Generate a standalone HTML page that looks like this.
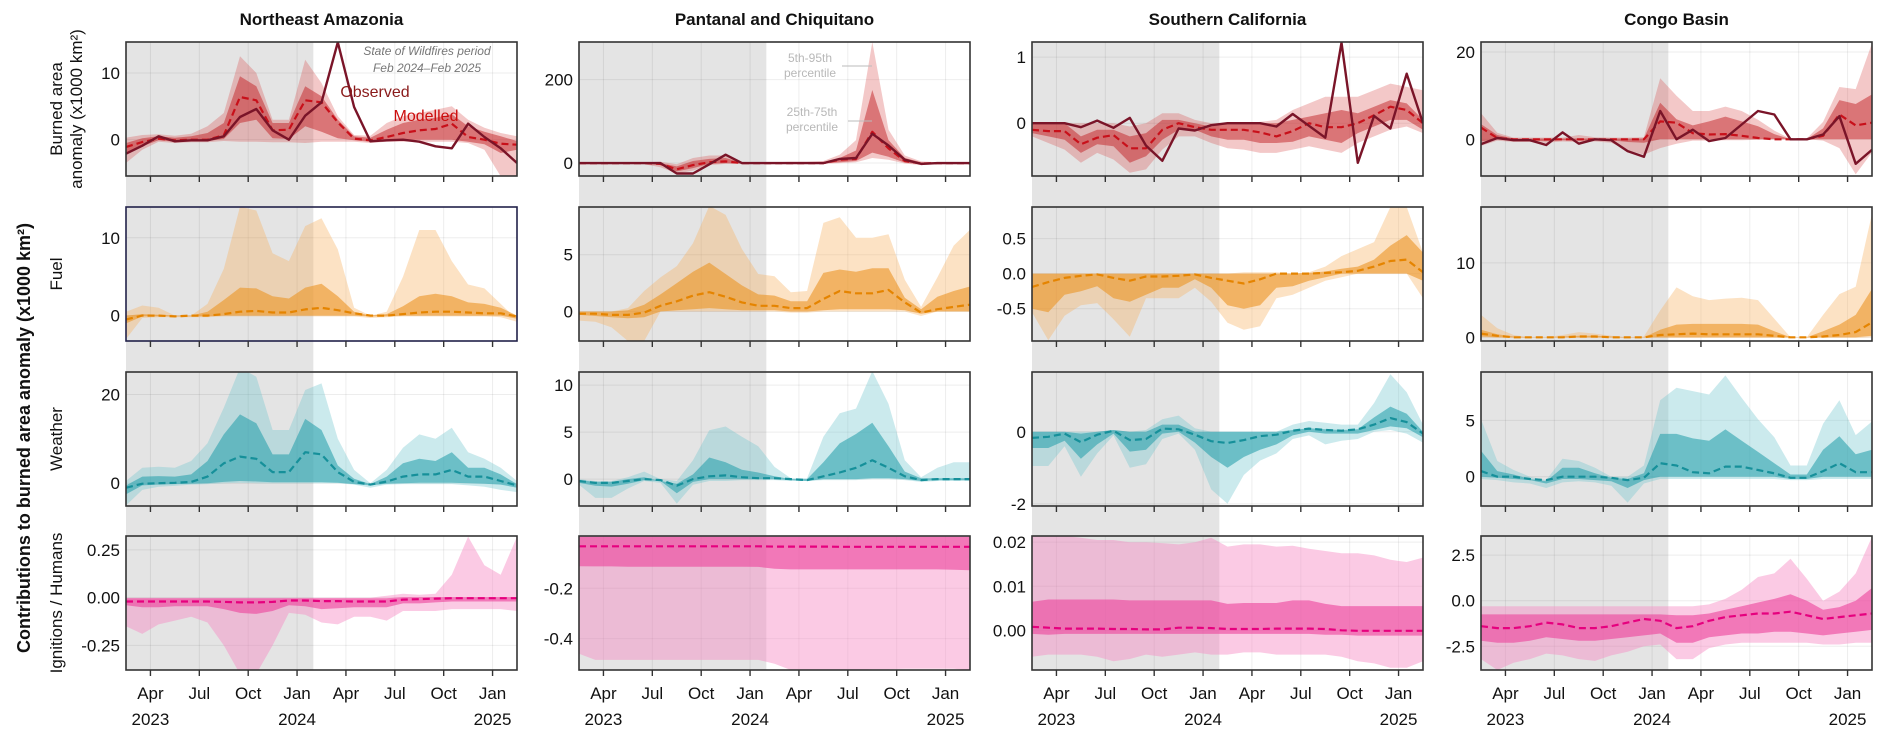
<!DOCTYPE html>
<html><head><meta charset="utf-8"><style>
html,body{margin:0;padding:0;background:#fff;}
svg{display:block;font-family:"Liberation Sans","DejaVu Sans",sans-serif;}
</style></head><body>
<svg id="chart" width="1892" height="744" viewBox="0 0 1892 744" xmlns="http://www.w3.org/2000/svg"></svg>
<script>
// ---- data: 25 monthly points, Feb 2023 .. Feb 2025 ----
const monthTickLabels=["Apr","Jul","Oct","Jan","Apr","Jul","Oct","Jan"];
const yearLabels=["2023","2024","2025"];
const regionTitles=["Northeast Amazonia","Pantanal and Chiquitano","Southern California","Congo Basin"];

// Northeast Amazonia
const neaBurnObs=[-2.1,-0.9,0.5,-0.25,-0.1,-0.1,0.5,3.4,4.6,1.4,0,3.6,5.6,14.6,4.9,-0.25,-0.1,0,-0.3,-1,-1.3,2.4,0.4,-1.3,-3.5];
const neaBurnMed=[-1.1,-0.35,0.15,-0.1,0,0,0.65,6.4,5.9,1.4,1.5,5.9,5.6,2.6,0.15,-0.1,0.4,1,1.4,1.6,2.4,0.4,0,-0.6,-0.75];
const neaBurnP75=[-0.5,0.2,0.5,0.3,0.5,1,2.5,9.5,8,2.5,2.5,8,6.5,3,0.5,0.3,1.5,2.5,3,3.3,3.8,2,1.2,0.5,-0.2];
const neaBurnP25=[-2,-1,-0.1,-0.3,-0.2,-0.2,0.1,2.5,3,0.2,0.1,2,1.2,0.2,-0.1,-0.3,-0.1,0,0,0,0,-0.3,-0.7,-2,-1.5];
const neaBurnP95=[0.3,0.7,0.8,0.6,0.9,2,4,12.5,10,3,3,12,8.5,3.5,0.7,0.6,2.5,3.5,4,4.5,5,3,1.8,1,0.5];
const neaBurnP5=[-3.5,-1.5,-0.3,-0.5,-0.4,-0.4,-0.2,-0.3,-0.3,-0.4,-0.4,-0.5,-0.3,-0.3,-0.3,-0.5,-0.3,-0.3,-0.3,-0.3,-0.3,-0.5,-1.5,-5.5,-5.5];
const neaFuelP95=[0.5,1.3,1,0,0,1.5,6,14,13.5,8,7,11.5,12.5,8.5,1,0,0.5,5,11,11,7,4,3.5,1.5,-0.5];
const neaFuelP75=[0,0.2,0.1,0,0,0.5,2,3.6,3.5,2.5,2.2,3.6,4.1,2.5,0.5,0,0.2,1.2,2.5,2.8,2.5,1.7,1.5,1,0];
const neaFuelMed=[-0.5,0,0,-0.1,0,0,0.2,0.5,0.6,0.4,0.4,0.8,1,0.7,0.3,0,0,0.2,0.4,0.5,0.5,0.4,0.3,0.3,-0.1];
const neaFuelP25=[-1,-0.1,-0.1,-0.1,-0.1,-0.1,0,0,0,0,0,0,0,0,0,-0.1,-0.1,0,0,0,0,0,0,0,-0.4];
const neaFuelP5=[-3,-0.3,-0.2,-0.2,-0.2,-0.2,-0.1,-0.1,-0.1,-0.1,-0.1,-0.1,-0.1,-0.1,-0.1,-0.3,-0.2,-0.1,-0.1,-0.1,-0.1,-0.1,-0.1,-0.2,-0.8];
const neaWeatP95=[0.5,3.5,3.7,3.5,5,9,17,26,24,12,12,21,22.5,10,3,0,3,8,11,10,12.5,7,5.5,3.5,0.5];
const neaWeatP75=[-0.5,1.5,1.6,1.5,2,5,11,15.5,13.5,6.5,6.5,14.5,12,4,1,-0.2,1.5,4.5,5.5,5,7,3.5,3.5,2,-0.2];
const neaWeatMed=[-1,-0.1,0,0.1,0.3,1.5,4.5,6,5.5,2.5,2.5,7,6.5,2.5,0.3,-0.3,0.4,1.5,2,2,3,1.5,1.5,0.5,-0.5];
const neaWeatP25=[-2.5,-0.5,-0.3,-0.2,-0.1,0,0.3,0.5,0.4,0.2,0.2,0.2,0.2,0.1,-0.2,-0.5,-0.1,0,0.1,0.1,0.1,0,-0.1,-0.3,-1];
const neaWeatP5=[-5,-1.5,-0.8,-0.6,-0.3,-0.2,0,0.1,0,0,0,0,0,0,-0.3,-1,-0.3,-0.2,-0.2,-0.2,-0.2,-0.5,-0.8,-1.5,-2];
const neaIgnP95=[0,0,0,0,0,0,0,0,0,0,0,0,0,0,0,0,0.01,0.02,0.015,0.02,0.12,0.32,0.17,0.12,0.32];
const neaIgnP75=[-0.003,-0.003,-0.003,-0.003,-0.003,-0.003,-0.003,-0.003,-0.003,-0.003,-0.003,-0.003,-0.003,-0.003,-0.003,-0.003,-0.003,0.003,0.003,0.003,0.003,0.003,0.003,0.003,0.003];
const neaIgnMed=[-0.02,-0.02,-0.02,-0.02,-0.02,-0.02,-0.022,-0.025,-0.025,-0.022,-0.015,-0.015,-0.018,-0.018,-0.02,-0.02,-0.02,-0.01,-0.008,-0.005,-0.003,-0.003,-0.003,-0.003,-0.003];
const neaIgnP25=[-0.04,-0.05,-0.05,-0.045,-0.045,-0.045,-0.06,-0.08,-0.085,-0.07,-0.04,-0.045,-0.06,-0.055,-0.05,-0.05,-0.05,-0.03,-0.03,-0.025,-0.02,-0.02,-0.02,-0.02,-0.02];
const neaIgnP5=[-0.15,-0.19,-0.14,-0.12,-0.1,-0.13,-0.25,-0.4,-0.4,-0.25,-0.08,-0.09,-0.13,-0.14,-0.1,-0.1,-0.12,-0.07,-0.07,-0.07,-0.06,-0.06,-0.06,-0.06,-0.07];

// Pantanal and Chiquitano
const panBurnObs=[0,0,0,0,0,0,-25,-25,-3,20,0,0,0,0,0,0,10,12,70,42,8,-2,0,0,0];
const panBurnMed=[0,0,0,0,0,-2,-15,-5,2,4,0,0,0,0,0,0,8,10,75,35,5,-1,0,0,0];
const panBurnP75=[1,1,1,1,1,0,-8,5,10,12,1,1,1,1,1,2,12,30,175,55,12,2,1,1,1];
const panBurnP25=[-1,-1,-1,-1,-1,-5,-20,-12,-2,0,-1,-1,-1,-1,-1,-1,2,5,25,15,1,-3,-1,-1,-1];
const panBurnP95=[2,2,2,2,2,3,-3,12,18,18,2,2,2,3,3,5,20,55,290,80,18,4,2,2,2];
const panBurnP5=[-3,-3,-3,-3,-3,-10,-25,-18,-5,-2,-2,-2,-2,-2,-2,-2,0,2,12,8,-1,-5,-3,-3,-3];
const panFuelP95=[0,0,0,0.3,1.8,3,4,6,9.3,8.5,5.5,3.3,3.1,1.7,1.8,7.8,8.3,6.5,6.5,6.8,2.8,0.4,3,5.8,7.2];
const panFuelP75=[0,0,0,0.1,0.6,1.5,2.5,3.5,4.3,3.3,2.3,1.5,1.4,0.9,0.9,3.4,3.7,3.5,3.8,3.8,1.2,0.2,1.3,1.8,2.2];
const panFuelMed=[-0.2,-0.2,-0.3,-0.3,-0.1,0.5,0.9,1.4,1.7,1.3,0.8,0.5,0.5,0.3,0.3,1.1,1.8,1.6,1.6,1.9,0.8,-0.1,0.2,0.4,0.6];
const panFuelP25=[-0.3,-0.4,-0.5,-0.6,-0.5,0,0.1,0.2,0.3,0.2,0.1,0.1,0.1,0,0,0.1,0.2,0.2,0.2,0.2,0.1,-0.2,0,0,0];
const panFuelP5=[-0.8,-0.9,-1.4,-2.6,-2.6,0,0,0,0,0,0,0,0,-0.1,-0.1,0,0,0,0,0,0,-0.4,0,0,0];
const panWeatP95=[0,-0.2,-0.2,0.2,0.8,0,-0.2,2,5.2,5.6,4.5,3.5,1.3,0.1,0.1,4.5,7,7.5,11.5,8,2,0.2,1.2,1.8,1.8];
const panWeatP75=[-0.1,-0.3,-0.3,0,0.2,-0.2,-0.5,0.5,2.3,1.8,1,0.7,0.3,0,0,1.8,3.8,4.8,6,3.5,0.8,0.1,0.1,0.1,0.1];
const panWeatMed=[-0.2,-0.4,-0.4,-0.2,0,-0.1,-0.7,0,0.3,0.4,0.2,0.1,0.1,0,-0.1,0.3,0.7,1.2,2,1.2,0.3,-0.1,0,0,0];
const panWeatP25=[-0.4,-0.7,-0.8,-0.5,-0.1,-0.2,-1.5,-0.3,0,0,0,0,0,-0.1,-0.2,0,0,0,0.1,0.1,0,-0.2,-0.1,-0.1,-0.1];
const panWeatP5=[-0.6,-2,-2,-1,-0.2,-0.4,-2.6,-0.6,-0.2,-0.2,-0.1,-0.1,-0.1,-0.2,-0.2,-0.1,-0.1,-0.1,0,0,-0.1,-0.3,-0.2,-0.2,-0.2];
const panIgnP95=[0.01,0.01,0.01,0.01,0.01,0.01,0.01,0.01,0.01,0.01,0.01,0.01,0.01,0.01,0.01,0.01,0.01,0.01,0.01,0.01,0.01,0.01,0.01,0.01,0.01];
const panIgnP75=[0.005,0.005,0.005,0.005,0.005,0.005,0.005,0.005,0.005,0.005,0.005,0.005,0.005,0.005,0.005,0.005,0.005,0.005,0.005,0.005,0.005,0.005,0.005,0.005,0.005];
const panIgnMed=[-0.033,-0.033,-0.033,-0.033,-0.033,-0.033,-0.033,-0.033,-0.033,-0.033,-0.033,-0.033,-0.034,-0.034,-0.034,-0.034,-0.035,-0.035,-0.035,-0.035,-0.035,-0.035,-0.035,-0.035,-0.035];
const panIgnP25=[-0.112,-0.113,-0.113,-0.114,-0.114,-0.114,-0.114,-0.114,-0.114,-0.114,-0.114,-0.115,-0.122,-0.125,-0.125,-0.125,-0.125,-0.125,-0.125,-0.125,-0.125,-0.125,-0.125,-0.126,-0.128];
const panIgnP5=[-0.46,-0.485,-0.485,-0.485,-0.485,-0.485,-0.485,-0.485,-0.485,-0.485,-0.485,-0.485,-0.5,-0.525,-0.525,-0.525,-0.525,-0.525,-0.522,-0.522,-0.52,-0.52,-0.52,-0.52,-0.525];

// Southern California
const scaBurnObs=[0,0,0,-0.06,0.04,-0.07,0.08,-0.34,-0.57,-0.08,-0.11,-0.03,0,0,0,-0.05,0.14,-0.04,-0.22,1.22,-0.6,0.11,-0.08,0.75,0];
const scaBurnMed=[-0.1,-0.12,-0.12,-0.32,-0.22,-0.18,-0.38,-0.38,-0.1,0,-0.06,-0.1,-0.1,-0.1,-0.14,-0.2,-0.12,0,-0.06,-0.06,0,0.12,0.25,0.2,0];
const scaBurnP75=[0,0,0,-0.2,-0.1,-0.1,-0.2,-0.15,0.05,0.05,0,-0.05,0,0,0,0,0.05,0.1,0.15,0.2,0.15,0.25,0.35,0.3,0.05];
const scaBurnP25=[-0.15,-0.2,-0.25,-0.45,-0.32,-0.35,-0.6,-0.5,-0.25,-0.1,-0.1,-0.2,-0.25,-0.25,-0.3,-0.3,-0.28,-0.2,-0.25,-0.3,-0.15,-0.05,0.05,0.05,-0.1];
const scaBurnP95=[0,0,0,0,0,0,-0.05,0,0.15,0.15,0.05,0,0,0,0.02,0.05,0.2,0.3,0.4,0.4,0.4,0.5,0.6,0.55,0.5];
const scaBurnP5=[-0.2,-0.3,-0.4,-0.6,-0.45,-0.55,-0.75,-0.7,-0.4,-0.2,-0.2,-0.3,-0.38,-0.4,-0.45,-0.45,-0.4,-0.35,-0.4,-0.45,-0.3,-0.2,-0.1,-0.05,-0.15];
const scaFuelP95=[0,0,0,0,0,0,0,0,0,0,0,0,0,0.02,0.02,0.02,0,0.02,0.1,0.25,0.35,0.45,0.95,0.95,0.3];
const scaFuelP75=[0,0,0,0,0,0,0,0,0,0,0,0,0,0,0,0,0,0.01,0.03,0.07,0.1,0.2,0.4,0.55,0.3];
const scaFuelMed=[-0.19,-0.12,-0.06,-0.03,-0.01,-0.06,-0.1,-0.04,-0.04,-0.03,-0.01,-0.06,-0.1,-0.14,-0.08,0,0,0,0.01,0.02,0.04,0.1,0.18,0.2,0.02];
const scaFuelP25=[-0.5,-0.55,-0.3,-0.25,-0.18,-0.35,-0.4,-0.3,-0.2,-0.2,-0.08,-0.2,-0.45,-0.5,-0.45,-0.2,-0.18,-0.1,-0.05,0,0,0,0,0,-0.1];
const scaFuelP5=[-0.55,-0.95,-0.6,-0.45,-0.42,-0.65,-0.9,-0.35,-0.35,-0.35,-0.2,-0.4,-0.7,-0.8,-0.75,-0.35,-0.3,-0.2,-0.1,-0.05,0,0,0,0,-0.35];
const scaWeatP95=[0,0,0,0,0,0.05,0,0.05,0.35,0.45,0.1,0,0,0,0,0,0.2,0.3,0.25,0.2,0.2,0.8,1.6,1.1,0.2];
const scaWeatP75=[0,0,0,-0.05,0,0.05,0,0,0.2,0.2,0,0,0,0,0,0,0.05,0.1,0.07,0.05,0.07,0.4,0.7,0.5,0];
const scaWeatMed=[-0.17,-0.14,-0.05,-0.29,-0.08,0.03,-0.23,-0.2,0.09,0.07,-0.08,-0.26,-0.31,-0.23,-0.12,-0.08,0.03,0.09,0.05,0.03,0.07,0.2,0.38,0.27,-0.05];
const scaWeatP25=[-0.45,-0.45,-0.25,-0.75,-0.35,-0.05,-0.55,-0.5,-0.05,0,-0.3,-0.7,-1,-0.7,-0.5,-0.35,-0.1,0,-0.05,-0.05,-0.05,0.05,0.15,0.1,-0.15];
const scaWeatP5=[-0.95,-0.95,-0.4,-1.25,-0.6,-0.1,-1,-0.9,-0.2,-0.05,-0.5,-1.6,-2,-1.2,-0.8,-0.6,-0.2,-0.1,-0.35,-0.25,-0.2,0,0.05,-0.05,-0.3];
const scaIgnP95=[0.0214,0.0214,0.0214,0.021,0.0205,0.0205,0.02,0.02,0.0198,0.0195,0.02,0.021,0.019,0.0195,0.0195,0.019,0.0192,0.0185,0.018,0.0175,0.0175,0.017,0.016,0.0155,0.0165];
const scaIgnP75=[0.0065,0.007,0.007,0.007,0.007,0.007,0.0068,0.0068,0.0068,0.0068,0.0068,0.0068,0.006,0.0062,0.0062,0.0062,0.0068,0.0068,0.006,0.0055,0.0055,0.0055,0.0055,0.0055,0.0055];
const scaIgnMed=[0.0008,0.0006,0.0004,0.0004,0.0004,0.0003,0.0003,0.0002,0.0002,0.0006,0.0006,0.0005,0.0003,0.0003,0.0003,0.0004,0.0004,0.0004,0.0003,0,-0.0001,-0.0001,-0.0001,-0.0001,-0.0001];
const scaIgnP25=[-0.0008,-0.001,-0.0008,-0.0008,-0.0008,-0.0008,-0.0008,-0.0008,-0.0008,-0.0008,-0.0008,-0.0008,-0.0008,-0.0008,-0.0008,-0.0008,-0.0008,-0.0008,-0.001,-0.001,-0.0012,-0.0012,-0.0012,-0.0012,-0.0012];
const scaIgnP5=[-0.006,-0.0055,-0.0055,-0.0055,-0.006,-0.007,-0.0065,-0.0055,-0.006,-0.0055,-0.005,-0.0055,-0.0055,-0.005,-0.005,-0.0055,-0.0055,-0.0055,-0.0055,-0.006,-0.007,-0.0075,-0.0085,-0.0085,-0.007];

// Congo Basin
const conBurnObs=[-1.1,0.3,-0.2,-0.2,-1.3,1.6,-1,0,-0.2,-2.7,-4,6.5,0,2.2,-0.4,0.3,3.4,6.5,5.7,0,0,1.1,5.3,-5.6,-2.4];
const conBurnMed=[2.7,0.3,0,0,0,0,0,0,0,0,0,4.1,3.8,1.4,1.1,1.2,0.8,0.3,0,0,0,0.8,5.7,3.2,3.8];
const conBurnP75=[3.5,1,0.2,0.2,0.2,0.2,0.2,0.2,0.2,0.2,0.2,8.4,4.6,3.2,4.1,5.2,4.1,3,1.2,0,0,2.5,9,8.1,10.3];
const conBurnP25=[-0.5,0,-0.3,-0.3,-0.4,-0.2,-0.3,-0.2,-0.2,-0.6,-0.8,0,0,0,0,0,0,0,0,0,0,0,0,0,0];
const conBurnP95=[6,1.5,0.4,0.4,0.4,0.4,1,0.5,0.4,0.4,0.5,14,10,6.5,6.5,7.5,6.5,4.5,2,0.1,0.2,4,12,11.5,22];
const conBurnP5=[-1.5,-0.3,-0.6,-0.6,-0.8,-0.5,-0.6,-0.5,-0.8,-2.5,-3.5,-2,-1,-0.3,-0.3,-0.2,-0.2,-0.1,0,0,0,-0.3,-2,-8,-3];
const conFuelP95=[3,1.2,0.3,0,0,0.3,0.7,0.5,0.2,0,0.1,3.6,6.7,5.5,5,5.2,5.3,5,2.5,0,0,3,5.8,6.8,16.6];
const conFuelP75=[1,0.4,0.1,0,0,0.1,0.2,0.2,0.1,0,0,1,1.7,1.8,1.8,1.8,1.8,1.7,0.8,0,0,0.8,1.7,3,6.5];
const conFuelMed=[0.5,0.2,0,0,0,0,0.1,0.1,0,0,0,0.3,0.4,0.5,0.4,0.4,0.4,0.4,0.2,0,0,0.1,0.3,0.7,2];
const conFuelP25=[0.1,0,0,0,0,0,0,0,0,0,0,0,0,0,0,0,0,0,0,0,0,0,0,0,0.2];
const conFuelP5=[0,-0.1,-0.1,-0.1,-0.1,-0.1,-0.1,-0.1,-0.1,-0.1,-0.1,-0.1,-0.1,-0.1,-0.1,-0.1,-0.1,-0.1,-0.1,-0.1,-0.1,-0.1,-0.1,-0.1,0];
const conWeatP95=[5.1,1.4,0.6,0,-0.3,1.6,1.4,0.8,0,0,1,6.8,7.9,7.6,7.3,9,7,5.1,3.5,1,1,4.7,6.8,3.7,4.9];
const conWeatP75=[2.3,0.5,0.2,-0.2,-0.4,0.8,0.8,0.3,-0.1,-0.2,0.3,3.8,3.8,3.4,3.2,4.2,3.2,2.2,1.2,0.2,0.2,2.4,3.6,2,2.4];
const conWeatMed=[0.5,0,0,-0.2,-0.3,0,0,0,-0.1,-0.3,-0.1,1.2,1,0.4,0.3,0.9,0.9,0.6,0.3,-0.1,-0.1,0.5,1.2,0.4,0.4];
const conWeatP25=[0,-0.1,-0.2,-0.3,-0.6,-0.2,-0.2,-0.3,-0.4,-1,-0.3,0,0,0,0,0,0,0,0,-0.2,-0.2,0,0,0,0];
const conWeatP5=[-0.2,-0.3,-0.5,-0.6,-1,-0.5,-0.4,-0.5,-0.8,-2.3,-0.6,-0.2,-0.2,-0.2,-0.2,-0.2,-0.2,-0.2,-0.2,-0.3,-0.3,-0.2,-0.2,-0.2,-0.2];
const conIgnP95=[-0.3,-0.3,-0.3,-0.3,-0.3,-0.3,-0.3,-0.3,-0.3,-0.3,-0.3,-0.3,-0.3,-0.3,-0.2,0.1,0.6,1.3,1.5,2.3,1.2,0,0.5,1.5,3.5];
const conIgnP75=[-0.75,-0.75,-0.75,-0.75,-0.75,-0.75,-0.75,-0.75,-0.75,-0.75,-0.75,-0.75,-0.8,-0.8,-0.7,-0.5,-0.3,-0.1,0.1,0.35,0,-0.5,-0.35,0,0.7];
const conIgnMed=[-1.4,-1.5,-1.5,-1.4,-1.2,-1.3,-1.5,-1.5,-1.4,-1.2,-1.0,-1.1,-1.5,-1.4,-1.1,-0.9,-0.8,-0.7,-0.7,-0.6,-0.8,-1.0,-0.9,-0.8,-0.7];
const conIgnP25=[-2.2,-2.3,-2.3,-2.2,-2,-2.1,-2.2,-2.2,-2.1,-2,-1.9,-1.8,-2.3,-2.3,-2,-1.9,-1.8,-1.8,-1.7,-1.7,-1.8,-1.9,-1.8,-1.7,-1.6];
const conIgnP5=[-3.2,-3.8,-3.4,-3.2,-2.9,-3.0,-3.2,-3.3,-3.0,-2.8,-2.5,-2.4,-3.2,-3.2,-2.6,-2.4,-2.3,-2.3,-2.3,-2.3,-2.3,-2.4,-2.4,-2.3,-2.3];

// y-axis domains and ticks
const neaDomains=[[-5.45,14.65],[-3.26,13.95],[-5.13,25.06],[-0.379,0.323]];
const panDomains=[[-31,290],[-2.6,9.2],[-2.86,11.4],[-0.525,0.008]];
const scaDomains=[[-0.8,1.23],[-0.96,0.95],[-2.06,1.66],[-0.009,0.0214]];
const conDomains=[[-8.4,22.3],[-0.5,17.5],[-2.6,9.3],[-3.8,3.55]];
const neaTicks=[[0,10],[0,10],[0,20],[-0.25,0,0.25]];
const panTicks=[[0,200],[0,5],[0,5,10],[-0.4,-0.2]];
const scaTicks=[[0,1],[-0.5,0,0.5],[-2,0],[0,0.01,0.02]];
const conTicks=[[0,20],[0,10],[0,5],[-2.5,0,2.5]];
const neaTickLabels=[["0","10"],["0","10"],["0","20"],["-0.25","0.00","0.25"]];
const panTickLabels=[["0","200"],["0","5"],["0","5","10"],["-0.4","-0.2"]];
const scaTickLabels=[["0","1"],["-0.5","0.0","0.5"],["-2","0"],["0.00","0.01","0.02"]];
const conTickLabels=[["0","20"],["0","10"],["0","5"],["-2.5","0.0","2.5"]];

// ---- layout ----
const NS="http://www.w3.org/2000/svg";
const svg=document.getElementById('chart');
const colLeft=[126,579,1032,1481], PW=391;
const rowTop=[42,207,372,536], PH=134;
const rowNames=['burned','fuel','weather','ignitions'];
const colNames=['northeast-amazonia','pantanal-chiquitano','southern-california','congo-basin'];
const fills=[
 {light:'rgba(214,72,72,0.30)',dark:'rgba(196,40,44,0.52)',med:'#c8101a'},
 {light:'rgba(247,176,92,0.36)',dark:'rgba(236,150,40,0.62)',med:'#e58400'},
 {light:'rgba(110,196,206,0.36)',dark:'rgba(40,160,172,0.58)',med:'#16909a'},
 {light:'rgba(247,140,196,0.46)',dark:'rgba(236,70,156,0.62)',med:'#e6007e'}];
const regions=[
 {d:neaDomains,t:neaTicks,tl:neaTickLabels,obs:neaBurnObs,rows:[
  [neaBurnP5,neaBurnP25,neaBurnMed,neaBurnP75,neaBurnP95],[neaFuelP5,neaFuelP25,neaFuelMed,neaFuelP75,neaFuelP95],
  [neaWeatP5,neaWeatP25,neaWeatMed,neaWeatP75,neaWeatP95],[neaIgnP5,neaIgnP25,neaIgnMed,neaIgnP75,neaIgnP95]]},
 {d:panDomains,t:panTicks,tl:panTickLabels,obs:panBurnObs,rows:[
  [panBurnP5,panBurnP25,panBurnMed,panBurnP75,panBurnP95],[panFuelP5,panFuelP25,panFuelMed,panFuelP75,panFuelP95],
  [panWeatP5,panWeatP25,panWeatMed,panWeatP75,panWeatP95],[panIgnP5,panIgnP25,panIgnMed,panIgnP75,panIgnP95]]},
 {d:scaDomains,t:scaTicks,tl:scaTickLabels,obs:scaBurnObs,rows:[
  [scaBurnP5,scaBurnP25,scaBurnMed,scaBurnP75,scaBurnP95],[scaFuelP5,scaFuelP25,scaFuelMed,scaFuelP75,scaFuelP95],
  [scaWeatP5,scaWeatP25,scaWeatMed,scaWeatP75,scaWeatP95],[scaIgnP5,scaIgnP25,scaIgnMed,scaIgnP75,scaIgnP95]]},
 {d:conDomains,t:conTicks,tl:conTickLabels,obs:conBurnObs,rows:[
  [conBurnP5,conBurnP25,conBurnMed,conBurnP75,conBurnP95],[conFuelP5,conFuelP25,conFuelMed,conFuelP75,conFuelP95],
  [conWeatP5,conWeatP25,conWeatMed,conWeatP75,conWeatP95],[conIgnP5,conIgnP25,conIgnMed,conIgnP75,conIgnP95]]}];

function mk(tag,attrs,parent){const e=document.createElementNS(NS,tag);for(const k in attrs)e.setAttribute(k,attrs[k]);(parent||svg).appendChild(e);return e;}
// month index m: months since Jan 1 2023; data point i sits at m = 1.5 + i
function xScale(c,m){return colLeft[c]+(m-1.5)/24*PW;}
function xIdx(c,i){return xScale(c,1.5+i);}
function yScale(c,r,v){const d=regions[c].d[r];return rowTop[r]+(d[1]-v)/(d[1]-d[0])*PH;}
const tickMonths=[3,6,9,12,15,18,21,24];
const yearMonths=[3,12,24];

const defs=mk('defs',{});
for(let c=0;c<4;c++){
 // grey State-of-Wildfires-previous-period shading spanning whole column
 const sh=mk('rect',{x:colLeft[c],y:rowTop[0],width:xScale(c,13)-colLeft[c],height:rowTop[3]+PH-rowTop[0],fill:'#e4e4e4'});
 
 
 const title=mk('text',{x:colLeft[c]+PW/2,y:25,'text-anchor':'middle','font-size':'17','font-weight':'bold',fill:'#111'});
 title.textContent=regionTitles[c];
 
 
 for(let r=0;r<4;r++){
  const g=mk('g',{});
  
  
  const cid='clip'+c+'_'+r;
  const cp=mk('clipPath',{id:cid},defs);
  mk('rect',{x:colLeft[c],y:rowTop[r],width:PW,height:PH},cp);
  // gridlines
  tickMonths.forEach(m=>{const X=xScale(c,m);mk('line',{x1:X,x2:X,y1:rowTop[r],y2:rowTop[r]+PH,stroke:'rgba(0,0,0,0.07)','stroke-width':1},g);});
  regions[c].t[r].forEach((v,k)=>{
   const Y=yScale(c,r,v);
   mk('line',{x1:colLeft[c],x2:colLeft[c]+PW,y1:Y,y2:Y,stroke:'rgba(0,0,0,0.07)','stroke-width':1},g);
   const tl=mk('text',{x:colLeft[c]-6,y:Y+6,'text-anchor':'end','font-size':'17',fill:'#111'},g);
   tl.textContent=regions[c].tl[r][k];
   
   
  });
  const data=regions[c].rows[r];
  const cg=mk('g',{'clip-path':'url(#'+cid+')'},g);
  function band(lo,hi,fill,name){
   let pts=[];for(let i=0;i<hi.length;i++)pts.push(xIdx(c,i).toFixed(1)+','+yScale(c,r,hi[i]).toFixed(1));
   for(let i=lo.length-1;i>=0;i--)pts.push(xIdx(c,i).toFixed(1)+','+yScale(c,r,lo[i]).toFixed(1));
   const p=mk('polygon',{points:pts.join(' '),fill:fill},cg);
   
   
  }
  band(data[0],data[4],fills[r].light,'band-5-95');
  band(data[1],data[3],fills[r].dark,'band-25-75');
  function line(arr,stroke,w,dash,name){
   const pts=arr.map((v,i)=>xIdx(c,i).toFixed(1)+','+yScale(c,r,v).toFixed(1)).join(' ');
   const l=mk('polyline',{points:pts,fill:'none',stroke:stroke,'stroke-width':w,'stroke-dasharray':dash,'stroke-linejoin':'round'},cg);
   
   
  }
  line(data[2],fills[r].med,2.2,'7,4','median-line');
  if(r===0) line(regions[c].obs,'#7a1428',2.4,'none','observed-line');
  const fr=mk('rect',{x:colLeft[c],y:rowTop[r],width:PW,height:PH,fill:'none',stroke:(c===0&&r===1)?'#22224a':'#333','stroke-width':1.6},g);
  
  
  tickMonths.forEach((m,k)=>{
   const X=xScale(c,m);
   mk('line',{x1:X,x2:X,y1:rowTop[r]+PH,y2:rowTop[r]+PH+6,stroke:'#333','stroke-width':1.4},g);
   if(r===3){
    const t=mk('text',{x:X,y:rowTop[r]+PH+29,'text-anchor':'middle','font-size':'17',fill:'#111'},g);
    t.textContent=monthTickLabels[k];
    
    
   }
  });
  if(r===3){
   yearMonths.forEach((m,k)=>{
    let X=xScale(c,m); if(k===2) X=Math.min(X,colLeft[c]+PW-20);
    const t=mk('text',{x:X,y:rowTop[r]+PH+55,'text-anchor':'middle','font-size':'17',fill:'#111'},g);
    t.textContent=yearLabels[k];
    
    
   });
  }
 }
}
// axis titles
function vtext(x,y,txt,name,bold,size){
 const t=mk('text',{x:x,y:y,'text-anchor':'middle','font-size':size||17,'font-weight':bold?'bold':'normal',fill:'#111',transform:'rotate(-90 '+x+' '+y+')'});
 t.textContent=txt;
 
 
}
vtext(62,109,'Burned area','burned-area-axis-title-line1');
vtext(82,109,'anomaly (x1000 km²)','burned-area-axis-title-line2');
vtext(62,274,'Fuel','fuel-axis-title');
vtext(62,439,'Weather','weather-axis-title');
vtext(62,603,'Ignitions / Humans','ignitions-axis-title');
vtext(30,438,'Contributions to burned area anomaly (x1000 km²)','contributions-axis-title',true,18);
// annotations
function atext(x,y,txt,fill,size,style,name){
 const t=mk('text',{x:x,y:y,'text-anchor':'middle','font-size':size,'font-style':style,fill:fill});
 t.textContent=txt;
 
 
}
atext(427,55,'State of Wildfires period','#777',12,'italic','period-annotation-line1');
atext(427,72,'Feb 2024–Feb 2025','#777',12,'italic','period-annotation-line2');
atext(375,97,'Observed','#8a1a1a',16,'normal','observed-label');
atext(426,121,'Modelled','#cc0d0d',16,'normal','modelled-label');
atext(810,62,'5th-95th','#b8b8b8',12,'normal','p5-95-annotation');
atext(810,77,'percentile','#b8b8b8',12,'normal','p5-95-annotation-line2');
atext(812,116,'25th-75th','#b8b8b8',12,'normal','p25-75-annotation');
atext(812,131,'percentile','#b8b8b8',12,'normal','p25-75-annotation-line2');
mk('line',{x1:842,x2:872,y1:66,y2:66,stroke:'#bbb','stroke-width':1});
mk('line',{x1:848,x2:872,y1:121,y2:121,stroke:'#bbb','stroke-width':1});
</script>
</body></html>
